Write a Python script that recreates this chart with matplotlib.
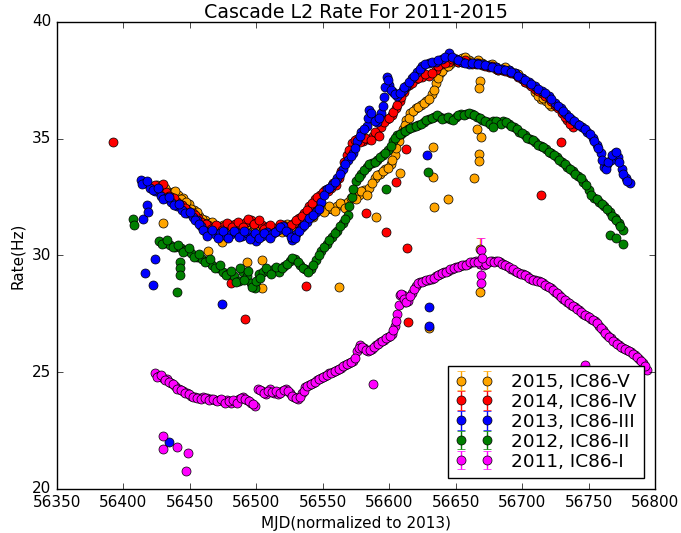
# -*- coding: utf-8 -*-

import numpy as np
import matplotlib
matplotlib.use('Agg')
import matplotlib.pyplot as plt

plt.style.use('classic')

# ---- 2015, IC86-V (orange) ----
day_2015 = [56425, 56429, 56433, 56437, 56441, 56445, 56449, 56453, 56457, 56461,
            56465, 56469, 56473, 56477, 56481, 56485, 56489, 56493, 56497, 56501,
            56505, 56509, 56513, 56517, 56521, 56525, 56529, 56533, 56537, 56541,
            56545, 56549, 56553, 56557, 56561, 56565, 56569, 56573, 56577, 56581,
            56585, 56589, 56593, 56597, 56601, 56604, 56607, 56610, 56613, 56616,
            56620, 56624, 56628, 56632, 56635, 56638, 56642, 56646, 56650, 56655,
            56660, 56665, 56670, 56675, 56680, 56685, 56690, 56695, 56700, 56705,
            56710, 56714, 56718, 56722,
            56427, 56431, 56435, 56439, 56443, 56447, 56451, 56455, 56459, 56463,
            56467, 56471, 56475, 56479, 56483, 56487, 56491, 56495, 56499, 56503,
            56507, 56511, 56515, 56519, 56523, 56527, 56531, 56535, 56539, 56543,
            56547, 56551, 56555, 56559, 56563, 56567, 56571, 56575, 56579, 56583,
            56587, 56591, 56595, 56599, 56602, 56605, 56609, 56612, 56615, 56618,
            56622, 56626, 56630, 56634, 56637, 56640, 56644, 56648, 56652, 56657,
            56662, 56667, 56672, 56677, 56682, 56687, 56692, 56697, 56702, 56707,
            56712, 56716, 56720]
rate_2015 = [33.0, 32.85, 32.75, 32.7, 32.6, 32.45, 32.2, 31.95, 31.7, 31.5,
             31.4, 31.3, 31.2, 31.15, 31.1, 31.2, 31.3, 31.1, 31.0, 31.05,
             31.1, 31.05, 31.0, 31.1, 31.2, 31.3, 31.4, 31.5, 31.7, 31.8,
             31.9, 32.0, 32.0, 32.0, 32.1, 32.2, 32.3, 32.5, 32.6, 32.8,
             32.9, 33.3, 33.5, 33.7, 33.9, 34.3, 34.9, 35.4, 35.8, 36.1,
             36.3, 36.45, 36.6, 36.9, 37.4, 37.8, 38.05, 38.2, 38.4, 38.45,
             38.35, 38.3, 38.25, 38.15, 38.05, 38.0, 37.95, 37.8, 37.6, 37.4,
             37.0, 36.7, 36.6, 36.4,
             32.7, 32.9, 32.6, 32.75, 32.4, 32.3, 32.0, 31.85, 31.55, 31.35,
             31.45, 31.15, 31.3, 31.0, 31.25, 31.05, 31.35, 30.95, 31.2, 30.9,
             31.2, 30.95, 31.15, 31.0, 31.35, 31.15, 31.55, 31.4, 31.85, 31.65,
             32.05, 31.85, 32.1, 31.9, 32.25, 32.05, 32.45, 32.4, 32.75, 32.6,
             33.1, 33.45, 33.6, 33.75, 34.1, 34.6, 35.2, 35.6, 35.9, 36.2,
             36.35, 36.55, 36.7, 37.1, 37.6, 37.9, 38.1, 38.35, 38.3, 38.5,
             38.3, 38.35, 38.15, 38.2, 37.95, 38.05, 37.85, 37.75, 37.45, 37.3,
             36.85, 36.75, 36.5]
out_day_2015 = [56633.2, 56632.7, 56644.5, 56633.7, 56590, 56608, 56562.4, 56668.3,
                56667.8, 56666.3, 56669, 56667.3, 56667.3, 56664, 56429.5, 56492.7,
                56504, 56504.5, 56463.9, 56474, 56668, 56630, 56668]
out_rate_2015 = [34.64, 33.36, 32.4, 32.06, 31.63, 33.54, 28.64, 37.48,
                 37.19, 35.42, 35.09, 34.35, 34.03, 33.32, 31.4, 29.74,
                 29.79, 28.6, 30.2, 30.57, 28.42, 26.9, 30.28]
out_err_2015 = [0.05, 0.05, 0.05, 0.05, 0.05, 0.05, 0.05, 0.05,
                0.05, 0.05, 0.05, 0.05, 0.05, 0.05, 0.05, 0.05,
                0.05, 0.05, 0.05, 0.05, 0.05, 0.05, 0.45]

# ---- 2014, IC86-IV (red) ----
day_2014 = [56424, 56428, 56432, 56436, 56440, 56444, 56448, 56452, 56456, 56460,
            56464, 56468, 56472, 56476, 56480, 56484, 56488, 56492, 56496, 56500,
            56504, 56508, 56512, 56516, 56520, 56524, 56528, 56532, 56536, 56540,
            56544, 56548, 56552, 56556, 56560, 56564, 56568, 56572, 56576, 56580,
            56584, 56588, 56591, 56594, 56598, 56602, 56605, 56608, 56611, 56615,
            56620, 56625, 56630, 56635, 56640, 56645, 56650, 56655, 56660, 56665,
            56670, 56675, 56680, 56685, 56690, 56695, 56700, 56705, 56710, 56715,
            56720, 56725, 56730, 56734, 56738,
            56426, 56430, 56434, 56438, 56442, 56446, 56450, 56454, 56458, 56462,
            56466, 56470, 56474, 56478, 56482, 56486, 56490, 56494, 56498, 56502,
            56506, 56510, 56514, 56518, 56522, 56526, 56530, 56534, 56538, 56542,
            56546, 56550, 56554, 56558, 56562, 56566, 56570, 56574, 56578, 56582,
            56586, 56589, 56592, 56596, 56600, 56603, 56606, 56609, 56613, 56617,
            56622, 56627, 56632, 56637, 56642, 56647, 56652, 56657, 56662, 56667,
            56672, 56677, 56682, 56687, 56692, 56697, 56702, 56707, 56712, 56717,
            56722, 56727, 56732, 56736]
rate_2014 = [33.0, 32.95, 32.7, 32.5, 32.3, 32.15, 31.95, 31.8, 31.6, 31.4,
             31.3, 31.2, 31.2, 31.25, 31.3, 31.35, 31.3, 31.45, 31.5, 31.4,
             31.3, 31.2, 31.1, 31.2, 31.3, 31.2, 31.4, 31.6, 31.8, 32.1,
             32.4, 32.6, 32.8, 32.9, 33.0, 33.6, 34.3, 34.8, 35.0, 34.9,
             35.0, 35.1, 35.2, 35.5, 35.85, 36.0, 36.3, 36.6, 37.0, 37.3,
             37.55, 37.65, 37.7, 37.95, 38.2, 38.3, 38.35, 38.3, 38.25, 38.2,
             38.15, 38.05, 38.0, 37.95, 37.85, 37.75, 37.55, 37.35, 37.15, 36.95,
             36.75, 36.45, 36.1, 35.8, 35.5,
             32.8, 33.05, 32.55, 32.45, 32.2, 32.05, 31.8, 31.75, 31.45, 31.35,
             31.15, 31.3, 31.1, 31.4, 31.2, 31.45, 31.2, 31.55, 31.35, 31.5,
             31.15, 31.3, 31.0, 31.35, 31.1, 31.3, 31.5, 31.7, 31.95, 32.25,
             32.5, 32.7, 32.75, 33.1, 33.3, 34.0, 34.5, 34.95, 34.85, 35.05,
             34.95, 35.3, 35.1, 35.7, 35.9, 36.15, 36.45, 36.8, 37.2, 37.4,
             37.6, 37.75, 37.8, 38.1, 38.25, 38.4, 38.3, 38.35, 38.2, 38.25,
             38.1, 38.1, 37.95, 37.9, 37.8, 37.65, 37.45, 37.25, 37.05, 36.85,
             36.6, 36.3, 35.95, 35.65]
out_day_2014 = [56392, 56613, 56605, 56582.5, 56597.6, 56613.6, 56537.4, 56729,
                56714.2, 56491.5, 56614, 56481]
out_rate_2014 = [34.85, 34.54, 33.15, 31.84, 30.99, 30.31, 28.68, 34.85,
                 32.6, 27.26, 27.17, 28.8]

# ---- 2013, IC86-III (blue) ----
day_2013 = [56413, 56416, 56420, 56424, 56428, 56432, 56436, 56440, 56444, 56448,
            56452, 56455, 56458, 56461, 56465, 56469, 56473, 56477, 56481, 56485,
            56489, 56493, 56497, 56500, 56504, 56508, 56512, 56516, 56520, 56524,
            56527, 56530, 56534, 56538, 56542, 56545, 56549, 56553, 56557, 56561,
            56565, 56569, 56573, 56576, 56579, 56583, 56585, 56588, 56591, 56594,
            56596, 56598, 56600, 56603, 56606, 56610, 56613, 56617, 56621, 56625,
            56630, 56635, 56640, 56645, 56650, 56655, 56660, 56665, 56670, 56675,
            56680, 56685, 56690, 56695, 56700, 56705, 56710, 56715, 56720, 56725,
            56729, 56733, 56737, 56741, 56745, 56749, 56753, 56756, 56759, 56762,
            56764, 56767, 56770, 56772, 56775, 56778, 56781,
            56414, 56418, 56422, 56426, 56430, 56434, 56438, 56442, 56446, 56450,
            56454, 56457, 56460, 56463, 56467, 56471, 56475, 56479, 56483, 56487,
            56491, 56495, 56499, 56502, 56506, 56510, 56514, 56518, 56522, 56526,
            56529, 56532, 56536, 56540, 56543, 56547, 56551, 56555, 56559, 56563,
            56567, 56571, 56574, 56578, 56581, 56584, 56586, 56589, 56592, 56595,
            56597, 56599, 56601, 56604, 56608, 56611, 56615, 56619, 56623, 56627,
            56632, 56637, 56642, 56647, 56652, 56657, 56662, 56667, 56672, 56677,
            56682, 56687, 56692, 56697, 56702, 56707, 56712, 56717, 56722, 56727,
            56731, 56735, 56739, 56743, 56747, 56751, 56754, 56757, 56760, 56763,
            56765, 56768, 56771, 56773, 56776, 56779]
rate_2013 = [33.25, 33.1, 32.9, 32.75, 32.55, 32.45, 32.3, 32.1, 31.95, 31.8,
             31.65, 31.5, 31.25, 31.05, 31.0, 30.9, 30.95, 30.85, 30.9, 31.0,
             30.85, 30.95, 30.8, 30.6, 30.85, 31.0, 30.9, 31.1, 31.25, 31.0,
             30.65, 30.9, 31.2, 31.45, 31.7, 31.85, 32.3, 32.85, 33.0, 33.3,
             33.7, 34.1, 34.4, 34.9, 35.3, 35.55, 36.25, 35.9, 35.7, 36.1,
             36.8, 37.65, 37.3, 37.0, 36.85, 37.1, 37.25, 37.6, 37.85, 38.1,
             38.25, 38.3, 38.4, 38.65, 38.4, 38.3, 38.2, 38.25, 38.2, 38.1,
             38.05, 38.0, 37.95, 37.8, 37.6, 37.45, 37.25, 37.05, 36.85, 36.55,
             36.3, 36.05, 35.85, 35.65, 35.5, 35.3, 35.05, 34.75, 34.4, 33.8,
             33.9, 34.1, 34.4, 34.2, 33.7, 33.3, 33.1,
             33.05, 33.2, 32.8, 32.9, 32.4, 32.5, 32.15, 32.2, 31.8, 31.85,
             31.5, 31.35, 31.1, 30.85, 31.1, 30.75, 31.05, 30.75, 31.05, 30.8,
             31.05, 30.7, 30.95, 30.75, 30.95, 30.75, 31.0, 31.2, 31.05, 30.8,
             30.75, 31.05, 31.3, 31.6, 31.75, 32.0, 32.6, 32.9, 33.15, 33.5,
             33.9, 34.25, 34.6, 35.1, 35.4, 35.9, 36.1, 35.75, 35.9, 36.4,
             37.2, 37.5, 37.1, 36.9, 36.95, 37.2, 37.45, 37.7, 38.0, 38.2,
             38.3, 38.35, 38.5, 38.5, 38.35, 38.25, 38.25, 38.2, 38.15, 38.05,
             38.0, 37.95, 37.85, 37.7, 37.5, 37.35, 37.15, 36.95, 36.7, 36.4,
             36.2, 35.95, 35.75, 35.6, 35.4, 35.2, 34.9, 34.6, 34.1, 33.7,
             34.0, 34.3, 34.45, 34.0, 33.5, 33.2]
out_day_2013 = [56415, 56417.5, 56418.8, 56423.7, 56416.2, 56422.5, 56474, 56628.2,
                56630, 56630, 56434.5]
out_rate_2013 = [31.56, 32.16, 31.87, 29.84, 29.25, 28.75, 27.94, 34.31,
                 27.8, 27.0, 22.0]

# ---- 2012, IC86-II (green) ----
day_2012 = [56427, 56431, 56435, 56439, 56443, 56447, 56451, 56455, 56459, 56463,
            56467, 56471, 56475, 56479, 56483, 56487, 56490, 56493, 56496, 56499,
            56502, 56505, 56509, 56513, 56517, 56521, 56525, 56529, 56533, 56537,
            56541, 56545, 56549, 56553, 56557, 56561, 56565, 56569, 56572, 56575,
            56579, 56583, 56587, 56591, 56595, 56599, 56603, 56606, 56610, 56614,
            56618, 56622, 56626, 56630, 56634, 56638, 56642, 56646, 56650, 56654,
            56658, 56662, 56666, 56670, 56674, 56678, 56682, 56686, 56690, 56694,
            56698, 56702, 56706, 56710, 56714, 56718, 56722, 56726, 56730, 56734,
            56738, 56742, 56746, 56750, 56754, 56758, 56762, 56766, 56770, 56773,
            56776,
            56429, 56433, 56437, 56441, 56445, 56449, 56453, 56457, 56461, 56465,
            56469, 56473, 56477, 56481, 56485, 56488, 56491, 56494, 56497, 56500,
            56503, 56507, 56511, 56515, 56519, 56523, 56527, 56531, 56535, 56539,
            56543, 56547, 56551, 56555, 56559, 56563, 56567, 56570, 56573, 56577,
            56581, 56585, 56589, 56593, 56597, 56601, 56604, 56608, 56612, 56616,
            56620, 56624, 56628, 56632, 56636, 56640, 56644, 56648, 56652, 56656,
            56660, 56664, 56668, 56672, 56676, 56680, 56684, 56688, 56692, 56696,
            56700, 56704, 56708, 56712, 56716, 56720, 56724, 56728, 56732, 56736,
            56740, 56744, 56748, 56752, 56756, 56760, 56764, 56768, 56771, 56774]
rate_2012 = [30.6, 30.55, 30.45, 30.35, 30.3, 30.25, 30.1, 29.95, 29.85, 29.75,
             29.6, 29.45, 29.3, 29.2, 29.1, 28.9, 29.3, 29.1, 28.8, 28.6,
             29.2, 29.3, 29.35, 29.4, 29.3, 29.55, 29.75, 29.85, 29.6, 29.4,
             29.4, 29.8, 30.2, 30.5, 30.8, 31.05, 31.4, 31.75, 32.5, 33.2,
             33.5, 33.8, 33.95, 34.1, 34.3, 34.5, 34.9, 35.15, 35.3, 35.4,
             35.5, 35.6, 35.7, 35.85, 35.95, 35.95, 35.9, 35.85, 35.95, 36.05,
             36.05, 36.05, 35.95, 35.8, 35.7, 35.75, 35.7, 35.75, 35.65, 35.5,
             35.3, 35.15, 35.0, 34.85, 34.7, 34.55, 34.4, 34.2, 34.0, 33.8,
             33.6, 33.4, 33.15, 32.8, 32.45, 32.3, 32.1, 31.85, 31.6, 31.4,
             31.1,
             30.5, 30.65, 30.35, 30.45, 30.15, 30.3, 29.95, 30.05, 29.7, 29.85,
             29.45, 29.6, 29.15, 29.35, 28.85, 29.45, 28.95, 29.35, 28.65, 28.9,
             29.05, 29.45, 29.2, 29.5, 29.45, 29.65, 29.9, 29.7, 29.45, 29.3,
             29.6, 30.0, 30.35, 30.65, 30.95, 31.25, 31.55, 32.1, 32.85, 33.35,
             33.65, 33.9, 34.0, 34.2, 34.4, 34.7, 35.05, 35.2, 35.35, 35.45,
             35.55, 35.65, 35.8, 35.9, 36.0, 35.85, 35.95, 35.8, 36.0, 36.0,
             36.1, 36.0, 35.9, 35.75, 35.65, 35.75, 35.65, 35.7, 35.55, 35.4,
             35.25, 35.05, 34.95, 34.75, 34.65, 34.45, 34.3, 34.1, 33.9, 33.7,
             33.5, 33.3, 33.0, 32.6, 32.4, 32.2, 32.0, 31.7, 31.5, 31.25]
out_day_2012 = [56407.4, 56408, 56442.6, 56442.6, 56442.6, 56440, 56766, 56771,
                56776, 56677.8, 56628.9, 56597.6]
out_rate_2012 = [31.56, 31.3, 29.74, 29.46, 29.18, 28.44, 30.88, 30.74,
                 30.48, 35.5, 33.57, 32.86]

# ---- 2011, IC86-I (magenta) ----
day_2011 = [56424, 56427, 56430, 56433, 56436, 56439, 56442, 56445, 56448, 56451,
            56454, 56457, 56460, 56463, 56466, 56469, 56472, 56475, 56478, 56481,
            56484, 56487, 56490, 56493, 56496, 56499, 56501, 56504, 56507, 56510,
            56513, 56516, 56519, 56522, 56525, 56528, 56531, 56534, 56537, 56540,
            56543, 56546, 56549, 56552, 56555, 56558, 56561, 56564, 56567, 56570,
            56573, 56576, 56578, 56581, 56584, 56587, 56590, 56593, 56596, 56599,
            56602, 56604, 56606, 56608, 56610, 56612, 56614, 56617, 56620, 56623,
            56626, 56629, 56632, 56635, 56638, 56641, 56644, 56647, 56650, 56653,
            56656, 56659, 56662, 56665, 56668, 56671, 56674, 56677, 56680, 56683,
            56686, 56689, 56692, 56695, 56698, 56701, 56704, 56707, 56710, 56713,
            56716, 56719, 56722, 56725, 56728, 56731, 56734, 56737, 56740, 56743,
            56746, 56749, 56752, 56755, 56758, 56761, 56764, 56767, 56770, 56773,
            56776, 56779, 56782, 56785, 56788, 56791, 56794,
            56425.5, 56428.5, 56431.5, 56434.5, 56437.5, 56440.5, 56443.5, 56446.5, 56449.5, 56452.5,
            56455.5, 56458.5, 56461.5, 56464.5, 56467.5, 56470.5, 56473.5, 56476.5, 56479.5, 56482.5,
            56485.5, 56488.5, 56491.5, 56494.5, 56497.5, 56502.5, 56505.5, 56508.5, 56511.5, 56514.5,
            56517.5, 56520.5, 56523.5, 56526.5, 56529.5, 56532.5, 56535.5, 56538.5, 56541.5, 56544.5,
            56547.5, 56550.5, 56553.5, 56556.5, 56559.5, 56562.5, 56565.5, 56568.5, 56571.5, 56574.5,
            56577, 56579.5, 56582.5, 56585.5, 56588.5, 56591.5, 56594.5, 56597.5, 56600.5, 56603,
            56605, 56607, 56609, 56611, 56613, 56615.5, 56618.5, 56621.5, 56624.5, 56627.5,
            56630.5, 56633.5, 56636.5, 56639.5, 56642.5, 56645.5, 56648.5, 56651.5, 56654.5, 56657.5,
            56660.5, 56663.5, 56666.5, 56672.5, 56675.5, 56678.5, 56681.5, 56684.5, 56687.5, 56690.5,
            56693.5, 56696.5, 56699.5, 56702.5, 56705.5, 56708.5, 56711.5, 56714.5, 56717.5, 56720.5,
            56723.5, 56726.5, 56729.5, 56732.5, 56735.5, 56738.5, 56741.5, 56744.5, 56747.5, 56750.5,
            56753.5, 56756.5, 56759.5, 56762.5, 56765.5, 56768.5, 56771.5, 56774.5, 56777.5, 56780.5,
            56783.5, 56786.5, 56789.5, 56792.5]
rate_2011 = [24.95, 24.85, 24.75, 24.7, 24.55, 24.4, 24.3, 24.2, 24.1, 24.0,
             23.95, 23.9, 23.95, 23.9, 23.85, 23.8, 23.8, 23.75, 23.8, 23.7,
             23.75, 23.85, 23.95, 23.8, 23.7, 23.55, 24.3, 24.2, 24.05, 24.3,
             24.1, 24.05, 24.2, 24.3, 24.1, 23.95, 23.85, 24.1, 24.35, 24.45,
             24.55, 24.65, 24.75, 24.85, 24.95, 25.0, 25.1, 25.2, 25.3, 25.4,
             25.5, 25.9, 26.15, 26.05, 25.9, 26.0, 26.15, 26.3, 26.4, 26.5,
             26.65, 27.0, 27.5, 28.3, 28.3, 28.0, 28.05, 28.4, 28.7, 28.85,
             28.9, 28.95, 29.0, 29.1, 29.2, 29.3, 29.35, 29.4, 29.5, 29.55,
             29.6, 29.65, 29.7, 29.75, 29.65, 29.6, 29.7, 29.75, 29.75, 29.7,
             29.65, 29.55, 29.4, 29.35, 29.25, 29.2, 29.1, 29.0, 28.95, 28.9,
             28.8, 28.7, 28.6, 28.45, 28.3, 28.15, 28.0, 27.9, 27.8, 27.65,
             27.5, 27.4, 27.3, 27.2, 27.0, 26.8, 26.6, 26.45, 26.3, 26.15,
             26.05, 25.95, 25.85, 25.75, 25.55, 25.4, 25.1,
             24.8, 24.9, 24.65, 24.6, 24.5, 24.3, 24.25, 24.1, 24.05, 23.95,
             23.9, 23.85, 23.9, 23.8, 23.85, 23.75, 23.85, 23.7, 23.75, 23.8,
             23.7, 23.9, 23.85, 23.75, 23.65, 24.25, 24.1, 24.2, 24.15, 24.2,
             24.1, 24.25, 24.2, 24.0, 23.9, 23.95, 24.2, 24.4, 24.5, 24.6,
             24.7, 24.8, 24.9, 24.95, 25.05, 25.15, 25.25, 25.35, 25.45, 25.6,
             26.05, 26.1, 25.95, 25.95, 26.1, 26.2, 26.35, 26.45, 26.55, 26.8,
             27.2, 27.9, 28.35, 28.15, 28.0, 28.25, 28.55, 28.8, 28.85, 28.95,
             29.0, 29.05, 29.15, 29.25, 29.3, 29.4, 29.45, 29.5, 29.6, 29.6,
             29.7, 29.7, 29.7, 29.65, 29.75, 29.7, 29.75, 29.65, 29.6, 29.5,
             29.4, 29.3, 29.2, 29.15, 29.05, 28.95, 28.9, 28.85, 28.75, 28.65,
             28.5, 28.4, 28.2, 28.1, 27.95, 27.85, 27.7, 27.6, 27.45, 27.35,
             27.25, 27.1, 26.9, 26.7, 26.5, 26.35, 26.2, 26.1, 26.0, 25.9,
             25.8, 25.65, 25.5, 25.25]
out_day_2011 = [56669, 56670, 56669, 56669, 56588, 56747, 56430, 56430,
                56440.5, 56448.3, 56447]
out_rate_2011 = [30.25, 29.9, 29.15, 28.8, 24.5, 25.3, 22.26, 21.73,
                 21.8, 21.52, 20.77]
out_err_2011 = [0.5, 0.3, 0.3, 0.3, 0.05, 0.05, 0.05, 0.05,
                0.05, 0.05, 0.05]

seasons = [
    ('2015, IC86-V', 'orange', day_2015, rate_2015, out_day_2015, out_rate_2015, out_err_2015),
    ('2014, IC86-IV', 'red', day_2014, rate_2014, out_day_2014, out_rate_2014, None),
    ('2013, IC86-III', 'blue', day_2013, rate_2013, out_day_2013, out_rate_2013, None),
    ('2012, IC86-II', 'green', day_2012, rate_2012, out_day_2012, out_rate_2012, None),
    ('2011, IC86-I', 'magenta', day_2011, rate_2011, out_day_2011, out_rate_2011, out_err_2011),
]

fig = plt.figure(figsize=(6.81, 5.33), dpi=100)
ax = fig.add_axes([0.0837, 0.0826, 0.8781, 0.8762])

for label, col, d, r, od, orr, oe in seasons:
    x = np.concatenate([d, od])
    y = np.concatenate([r, orr])
    if oe is None:
        oe = [0.05] * len(od)
    err = np.concatenate([[0.03] * len(d), oe])
    ax.errorbar(x, y, yerr=err, fmt='o', color=col, ecolor=col, mec='k',
                mew=0.5, ms=6.5, capsize=3, label=label)

ax.set_xlim([56350, 56800])
ax.set_ylim([20, 40])
ax.set_xticks(np.arange(56350, 56801, 50))
ax.set_yticks(np.arange(20, 41, 5))
ax.tick_params(labelsize=11)
ax.get_xaxis().get_major_formatter().set_useOffset(False)
ax.set_xlabel('MJD(normalized to 2013)', fontsize=11)
ax.set_ylabel('Rate(Hz)', fontsize=11)
ax.set_title('Cascade L2 Rate For 2011-2015', fontsize=13.7, pad=3)
ax.legend(loc='lower right', numpoints=2, fontsize=13.3, labelspacing=0.1,
          borderaxespad=0.6, handletextpad=1.0)

fig.savefig('out.png', dpi=100)
